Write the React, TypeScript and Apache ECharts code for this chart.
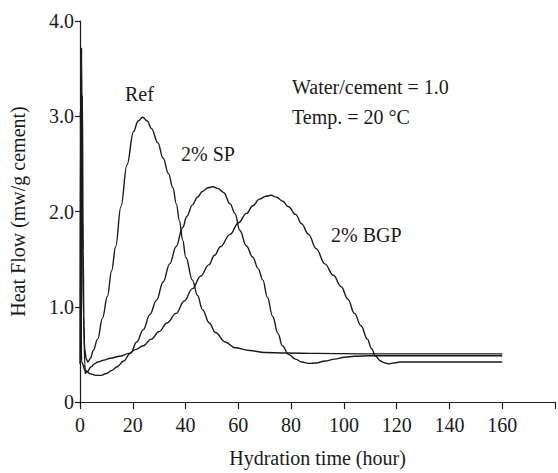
import React, { useEffect, useRef } from "react";
import * as echarts from "echarts";

const xTickLabels = ["0", "20", "40", "60", "80", "100", "120", "140", "160"];
const yTickLabels = ["0", "1.0", "2.0", "3.0", "4.0"];

const refSeries: [number, number][] = [
  [0.3, 0.45], [0.6, 3.72], [0.9, 2.0], [1.3, 0.9], [1.8, 0.55], [2.4, 0.45], [3.0, 0.42],
  [4.0, 0.46], [5.0, 0.54], [6.7, 0.66], [8.5, 0.88], [10.4, 1.11], [12, 1.38], [13.5, 1.63],
  [15.5, 2.05], [17.8, 2.49], [20.3, 2.84], [22, 2.95], [23.8, 2.99], [25.5, 2.95], [27.1, 2.87],
  [29.5, 2.72], [31.5, 2.56], [33.5, 2.4], [35.2, 2.25], [36.5, 2.08], [37.7, 1.9], [38.9, 1.7],
  [40.1, 1.52], [42.6, 1.28], [44.5, 1.12], [46.4, 0.97], [49, 0.83], [51.3, 0.73], [55, 0.63],
  [58.7, 0.57], [64.3, 0.54], [70, 0.52], [78, 0.515], [90, 0.51], [110, 0.505], [130, 0.505],
  [160, 0.505],
];

const spSeries: [number, number][] = [
  [0, 0.4], [0.15, 3.05], [0.35, 0.9], [0.6, 0.42], [2, 0.33], [4, 0.295], [6, 0.28], [8, 0.28],
  [10, 0.3], [12, 0.33], [14.1, 0.37], [16.5, 0.43], [19.1, 0.51], [21.5, 0.63], [24, 0.76],
  [26.5, 0.92], [29, 1.07], [31.5, 1.26], [34, 1.45], [36.4, 1.63], [38.9, 1.83], [40.5, 1.95],
  [42.6, 2.07], [44.5, 2.15], [46.4, 2.21], [48.5, 2.25], [50.3, 2.26], [52.4, 2.24], [54.4, 2.2],
  [56.9, 2.08], [58.7, 1.98], [60.6, 1.8], [63, 1.64], [65.5, 1.52], [67.5, 1.4], [69.3, 1.28],
  [71, 1.1], [73, 0.9], [75, 0.72], [76.7, 0.59], [79, 0.5], [81.7, 0.45], [84, 0.42],
  [86.6, 0.405], [89.5, 0.41], [92.8, 0.43], [96.5, 0.45], [100.3, 0.47], [104, 0.48],
  [110, 0.485], [130, 0.485], [160, 0.485],
];

const bgpSeries: [number, number][] = [
  [0.4, 0.5], [0.9, 3.22], [1.2, 1.6], [1.5, 0.8], [1.8, 0.4], [2.0, 0.3], [2.8, 0.32],
  [4.2, 0.37], [5.5, 0.4], [6.7, 0.42], [9, 0.44], [11.6, 0.46], [15, 0.48], [18.5, 0.51],
  [21, 0.55], [24, 0.59], [27, 0.66], [30, 0.74], [33, 0.83], [36.4, 0.93], [39.5, 1.06],
  [42.6, 1.19], [45.7, 1.32], [48.8, 1.44], [51, 1.54], [53.2, 1.63], [56.9, 1.76], [60, 1.88],
  [63.1, 1.98], [65.5, 2.06], [68, 2.13], [70.5, 2.16], [72.4, 2.17], [74.5, 2.15], [76.7, 2.11],
  [79, 2.05], [81.7, 1.97], [84, 1.87], [86.6, 1.76], [89.5, 1.61], [92.8, 1.45], [96, 1.33],
  [99, 1.21], [101.5, 1.08], [104, 0.93], [106.5, 0.8], [108.9, 0.66], [110.5, 0.56], [112, 0.48],
  [113.9, 0.43], [115.5, 0.41], [117, 0.4], [119, 0.41], [121.3, 0.42], [140, 0.42], [160, 0.42],
];

const seriesNames = ["Ref", "2% SP", "2% BGP"];
const noteLines = ["Water/cement = 1.0", "Temp. = 20 °C"];

const FONT = "'Liberation Serif', 'Times New Roman', serif";
const INK = "#1a1a1a";

export default function App() {
  const ref = useRef<HTMLDivElement>(null);
  useEffect(() => {
    if (!ref.current) return;
    const chart = echarts.init(ref.current, undefined, { renderer: "svg" });
    const lineSeries = [refSeries, spSeries, bgpSeries].map((d, i) => ({
      type: "line",
      name: seriesNames[i],
      data: d,
      smooth: 0.4,
      smoothMonotone: "x",
      showSymbol: false,
      symbol: "none",
      lineStyle: { color: INK, width: 1.4 },
      silent: true,
    }));
    const textStyle = { fontFamily: FONT, fontSize: 20, fill: INK };
    chart.setOption({
      animation: false,
      backgroundColor: "#ffffff",
      grid: { left: 77, top: 21, width: 484, height: 386, containLabel: false },
      xAxis: {
        type: "value",
        min: 0,
        max: 180,
        interval: 20,
        name: "Hydration time (hour)",
        nameLocation: "middle",
        nameGap: 46,
        nameTextStyle: { fontFamily: FONT, fontSize: 20, color: INK },
        axisLine: { show: true, onZero: false, lineStyle: { color: INK, width: 1.2 } },
        axisTick: { show: true, inside: false, length: 7, lineStyle: { color: INK, width: 1.2 } },
        axisLabel: {
          margin: 13,
          fontFamily: FONT,
          fontSize: 20,
          color: INK,
          formatter: (v: number) => {
            const idx = Math.round(v / 20);
            return idx < xTickLabels.length && Math.abs(v - idx * 20) < 1e-6 ? xTickLabels[idx] : "";
          },
        },
        splitLine: { show: false },
      },
      yAxis: {
        type: "value",
        min: 0,
        max: 4,
        interval: 1,
        name: "Heat Flow (mw/g cement)",
        nameLocation: "middle",
        nameGap: 52,
        nameTextStyle: { fontFamily: FONT, fontSize: 20, color: INK },
        axisLine: { show: true, lineStyle: { color: INK, width: 1.2 } },
        axisTick: { show: true, inside: false, length: 5, lineStyle: { color: INK, width: 1.2 } },
        axisLabel: {
          margin: 6,
          fontFamily: FONT,
          fontSize: 20,
          color: INK,
          formatter: (v: number) => yTickLabels[Math.round(v)] ?? "",
        },
        splitLine: { show: false },
      },
      series: lineSeries,
      graphic: [
        { type: "text", left: 125, top: 84, style: { ...textStyle, text: seriesNames[0] } },
        { type: "text", left: 181, top: 144, style: { ...textStyle, text: seriesNames[1] } },
        { type: "text", left: 331, top: 225, style: { ...textStyle, text: seriesNames[2] } },
        { type: "text", left: 292, top: 77, style: { ...textStyle, text: noteLines[0] } },
        { type: "text", left: 292, top: 107, style: { ...textStyle, text: noteLines[1] } },
      ],
    });
    return () => chart.dispose();
  }, []);
  return (
    <div
      ref={ref}
      style={{ position: "fixed", left: 0, top: 0, width: 558, height: 473, background: "#fff" }}
    />
  );
}
